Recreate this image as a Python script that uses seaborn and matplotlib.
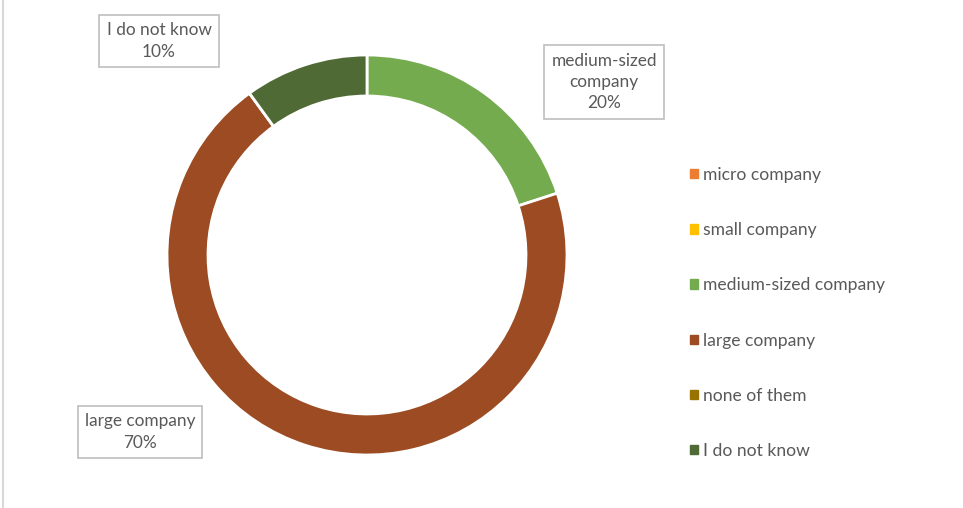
import matplotlib
matplotlib.use("Agg")
import matplotlib.pyplot as plt
from matplotlib.patches import Patch
from matplotlib.lines import Line2D
import seaborn as sns

categories = ["micro company", "small company", "medium-sized company",
              "large company", "none of them", "I do not know"]
values = [0, 0, 20, 70, 0, 10]
colors = ["#ED7D31", "#FFC000", "#74AB4E", "#9C4B22", "#997300", "#4F6A34"]
label_texts = {"medium-sized company": "medium-sized\ncompany\n20%",
               "large company": "large company\n70%",
               "I do not know": "I do not know\n10%"}

sns.set_theme(style="white")
plt.rcParams['font.family'] = ['Lato', 'DejaVu Sans']

W, H = 963, 508
fig = plt.figure(figsize=(W / 100, H / 100), dpi=100)
fig.patch.set_facecolor("white")

cx, cy, r = 367, 253, 200
ax = fig.add_axes([(cx - r) / W, (cy - r) / H, 2 * r / W, 2 * r / H])
ax.pie(values, colors=colors, startangle=90, counterclock=False, radius=1,
       wedgeprops=dict(width=0.205, edgecolor="white", linewidth=2))
ax.set_xlim(-1, 1)
ax.set_ylim(-1, 1)
ax.set_aspect("equal")
ax.axis("off")

txtc = "#595959"
box = dict(boxstyle="square,pad=0.42", fc="white", ec="#BFBFBF", lw=1.2)
pos = {"I do not know": (159, 41), "medium-sized company": (604, 82),
       "large company": (140, 432)}
for k, (px, py) in pos.items():
    fig.text(px / W, 1 - py / H, label_texts[k], ha="center", va="center",
             fontsize=12.4, color=txtc, bbox=box, linespacing=1.42)

handles = [Patch(facecolor=c, edgecolor=c) for c in colors]
leg = fig.legend(handles, categories, loc="upper left",
                 bbox_to_anchor=(683 / W, 1 - 160 / H), frameon=False,
                 fontsize=12.6, labelcolor=txtc, handlelength=0.45,
                 handleheight=0.45, handletextpad=0.3, labelspacing=2.24,
                 borderaxespad=0)

# faint left border of the chart area
fig.add_artist(Line2D([2.5 / W, 2.5 / W], [0, 1], color="#D9D9D9", lw=1.5,
                      transform=fig.transFigure))

fig.savefig("out.png", dpi=100, facecolor="white")
